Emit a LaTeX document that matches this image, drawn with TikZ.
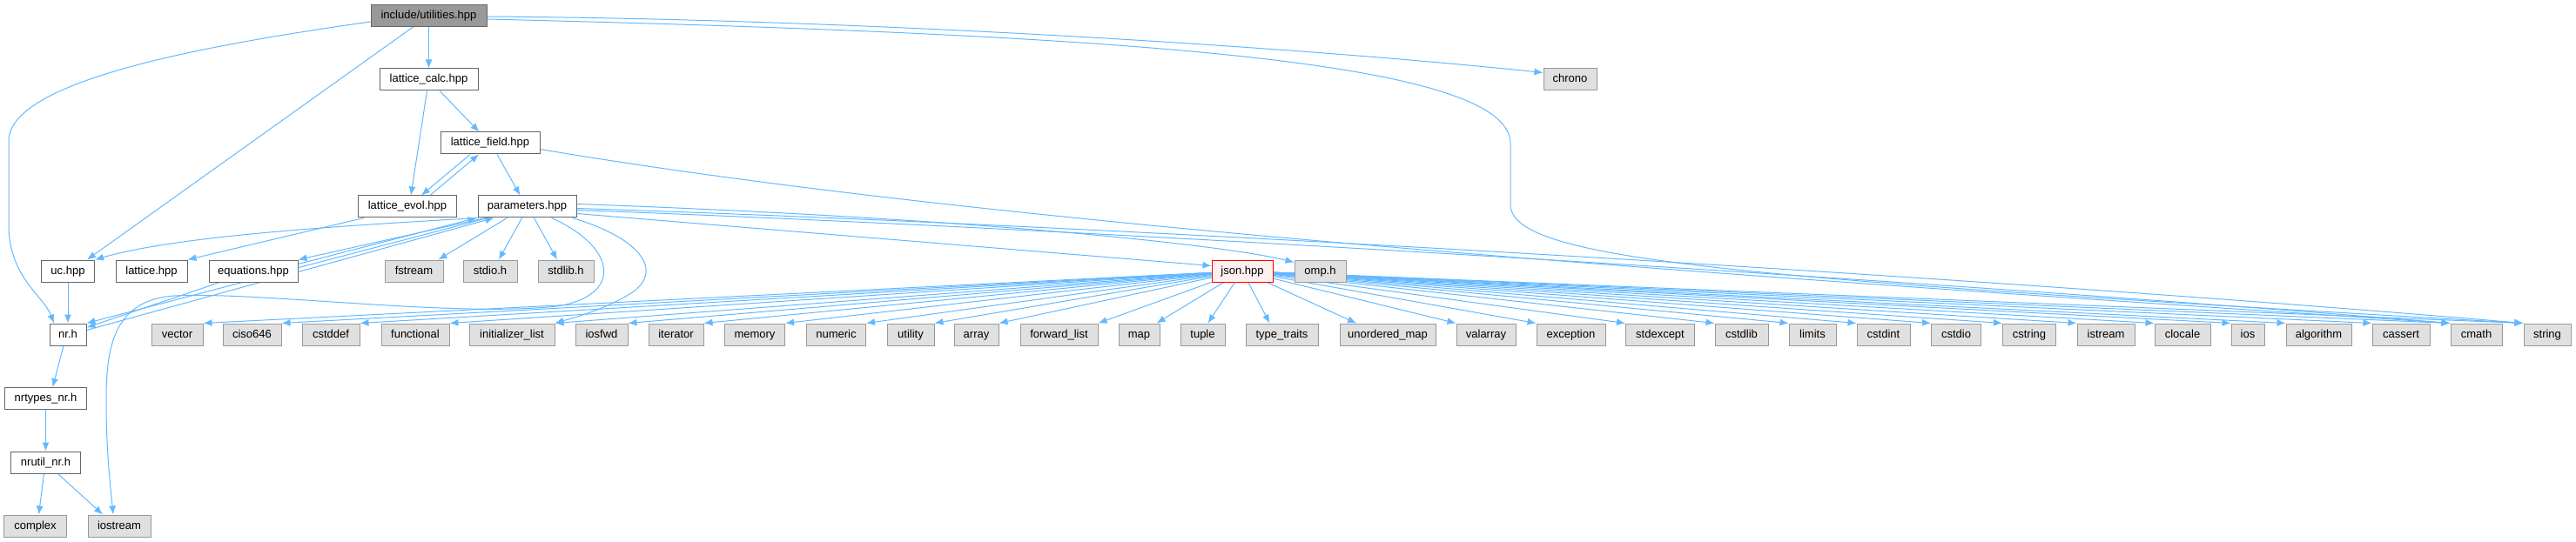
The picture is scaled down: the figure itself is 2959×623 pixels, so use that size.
\documentclass[tikz,border=0pt]{standalone}
\usepackage{fontspec}
\setmainfont{Liberation Sans}
\usetikzlibrary{arrows.meta,calc}
\definecolor{edgeblue}{HTML}{63B8FF}
\definecolor{extfill}{HTML}{E0E0E0}
\definecolor{extdraw}{HTML}{999999}
\definecolor{nodedraw}{HTML}{666666}
\definecolor{rootfill}{HTML}{999999}
\definecolor{jsonfill}{HTML}{FFF0F0}
\definecolor{jsondraw}{HTML}{FF0000}
\pgfdeclarelayer{bg}
\pgfsetlayers{bg,main}
\begin{document}
\begin{tikzpicture}[x=1bp,y=-1bp,
  box/.style={draw=nodedraw, fill=white, line width=1bp, minimum height=25bp, inner sep=0pt,
    font=\fontsize{13bp}{15bp}\selectfont, text=black, text height=9.6bp, text depth=2.6bp},
  extbox/.style={box, draw=extdraw, fill=extfill},
  rootbox/.style={box, fill=rootfill},
  redbox/.style={box, draw=jsondraw, fill=jsonfill},
  edge/.style={draw=edgeblue, line width=1bp, -{Latex[length=10bp,width=8bp]}},
]
\useasboundingbox (0,0) rectangle (2959,623);

% row 0
\node[rootbox, minimum width=133bp] (util) at (492.5,18) {include/utilities.hpp};
% row 1
\node[box, minimum width=113bp] (lcalc) at (492.5,91.5) {lattice\_calc.hpp};
\node[extbox, minimum width=61bp] (chrono) at (1803.5,91.5) {chrono};
% row 2
\node[box, minimum width=114bp] (lfield) at (563,164.5) {lattice\_field.hpp};
% row 3
\node[box, minimum width=113bp] (levol) at (468,237.5) {lattice\_evol.hpp};
\node[box, minimum width=113bp] (params) at (605.5,237.5) {parameters.hpp};
% row 4
\node[box, minimum width=61bp] (uc) at (78,311.5) {uc.hpp};
\node[box, minimum width=82bp] (lattice) at (174,311.5) {lattice.hpp};
\node[box, minimum width=102bp] (eq) at (291,311.5) {equations.hpp};
\node[extbox, minimum width=67bp] (fstream) at (475.5,311.5) {fstream};
\node[extbox, minimum width=62bp] (stdioh) at (563,311.5) {stdio.h};
\node[extbox, minimum width=64bp] (stdlibh) at (650,311.5) {stdlib.h};
\node[redbox, minimum width=70bp] (json) at (1427,311.5) {json.hpp};
\node[extbox, minimum width=59bp] (omp) at (1516.5,311.5) {omp.h};
% row 5
\node[box, minimum width=42bp] (nr) at (78,384.5) {nr.h};
\node[extbox, minimum width=59bp] (vector) at (203.5,384.5) {vector};
\node[extbox, minimum width=67bp] (ciso) at (289.5,384.5) {ciso646};
\node[extbox, minimum width=66bp] (cstddef) at (380,384.5) {cstddef};
\node[extbox, minimum width=78bp] (functional) at (477,384.5) {functional};
\node[extbox, minimum width=98bp] (initlist) at (588,384.5) {initializer\_list};
\node[extbox, minimum width=60bp] (iosfwd) at (691,384.5) {iosfwd};
\node[extbox, minimum width=63bp] (iterator) at (776.5,384.5) {iterator};
\node[extbox, minimum width=69bp] (memory) at (867,384.5) {memory};
\node[extbox, minimum width=68bp] (numeric) at (960.5,384.5) {numeric};
\node[extbox, minimum width=54bp] (utility) at (1046,384.5) {utility};
\node[extbox, minimum width=51bp] (array) at (1121.5,384.5) {array};
\node[extbox, minimum width=89bp] (fwdlist) at (1216.5,384.5) {forward\_list};
\node[extbox, minimum width=47bp] (map) at (1308.5,384.5) {map};
\node[extbox, minimum width=51bp] (tuple) at (1381.5,384.5) {tuple};
\node[extbox, minimum width=83bp] (typetraits) at (1472.5,384.5) {type\_traits};
\node[extbox, minimum width=110bp] (umap) at (1594,384.5) {unordered\_map};
\node[extbox, minimum width=68bp] (valarray) at (1707,384.5) {valarray};
\node[extbox, minimum width=79bp] (exception) at (1804.5,384.5) {exception};
\node[extbox, minimum width=79bp] (stdexcept) at (1907,384.5) {stdexcept};
\node[extbox, minimum width=61bp] (cstdlib) at (2000.5,384.5) {cstdlib};
\node[extbox, minimum width=54bp] (limits) at (2082,384.5) {limits};
\node[extbox, minimum width=61bp] (cstdint) at (2163.5,384.5) {cstdint};
\node[extbox, minimum width=57bp] (cstdio) at (2247,384.5) {cstdio};
\node[extbox, minimum width=61bp] (cstring) at (2331,384.5) {cstring};
\node[extbox, minimum width=66bp] (istream) at (2419,384.5) {istream};
\node[extbox, minimum width=64bp] (clocale) at (2507,384.5) {clocale};
\node[extbox, minimum width=38bp] (ios) at (2582,384.5) {ios};
\node[extbox, minimum width=75bp] (algorithm) at (2663.5,384.5) {algorithm};
\node[extbox, minimum width=66bp] (cassert) at (2758,384.5) {cassert};
\node[extbox, minimum width=59bp] (cmath) at (2844.5,384.5) {cmath};
\node[extbox, minimum width=54bp] (string) at (2926,384.5) {string};
% rows 6-8
\node[box, minimum width=93bp] (nrtypes) at (52.5,458) {nrtypes\_nr.h};
\node[box, minimum width=79bp] (nrutil) at (52.5,531.5) {nrutil\_nr.h};
\node[extbox, minimum width=71bp] (complex) at (40.5,604.5) {complex};
\node[extbox, minimum width=72bp] (iostream) at (137,604.5) {iostream};

\begin{pgfonlayer}{bg}
% utilities.hpp
\draw[edge] (util) -- (lcalc);
\draw[edge] ($(util.south)+(-18,0)$) -- ($(uc.north)+(22,0)$);
\draw[edge] ($(util.west)+(0,7)$) .. controls (250,50) and (15,90) .. (10,160) -- (10,262)
  .. controls (12,320) and (50,340) .. ($(nr.north)+(-16,0)$);
\draw[edge] ($(util.east)+(0,1)$) .. controls (1000,22) and (1500,55) .. ($(chrono.west)+(0,-8)$);
\draw[edge] ($(util.east)+(0,4)$) .. controls (1300,40) and (1735,70) .. (1735,165) -- (1735,235)
  .. controls (1735,300) and (2000,320) .. (string.north west);
% lattice_calc.hpp
\draw[edge] (lcalc) -- (lfield);
\draw[edge] ($(lcalc.south)+(-2,0)$) -- ($(levol.north)+(4,0)$);
% lattice_field.hpp / lattice_evol.hpp
\draw[edge] ($(lfield.south)+(-23,0)$) -- ($(levol.north)+(16,0)$);
\draw[edge] ($(levol.north)+(26,0)$) -- ($(lfield.south)+(-13,0)$);
\draw[edge] ($(lfield.south)+(8,0)$) -- ($(params.north)+(-8,0)$);
\draw[edge] ($(lfield.east)+(0,7)$) .. controls (1200,270) and (2200,330) .. (cmath.north west);
\draw[edge] ($(levol.south west)+(7,0)$) -- (lattice.north east);
% parameters.hpp
\draw[edge] ($(params.south west)+(1,0)$) .. controls (380,260) and (200,272) .. (uc.north east);
\draw[edge] ($(params.south west)+(9,0)$) -- (eq.north east);
\draw[edge] ($(eq.east)+(0,-8)$) -- ($(params.south west)+(-1,0)$);
\draw[edge] ($(params.south west)+(12,0)$) -- (nr.north east);
\draw[edge] ($(nr.east)+(0,-5)$) -- ($(params.south west)+(19,0)$);
\draw[edge] ($(params.south west)+(34,0)$) -- ($(fstream.north east)+(-6,0)$);
\draw[edge] ($(params.south)+(-6,0)$) -- ($(stdioh.north)+(10,0)$);
\draw[edge] ($(params.south)+(8,0)$) -- ($(stdlibh.north)+(-10,0)$);
\draw[edge] ($(params.south)+(28,0)$) .. controls (710,285) and (715,340) .. (640,352)
  .. controls (520,365) and (300,335) .. (200,340)
  .. controls (130,345) and (122,400) .. (122,460)
  .. controls (122,520) and (127,560) .. ($(iostream.north)+(-7,0)$);
\draw[edge] ($(params.south east)+(-5,0)$) .. controls (740,275) and (765,315) .. (720,340)
  .. controls (690,357) and (660,365) .. (initlist.north east);
\draw[edge] ($(params.east)+(0,8)$) -- ($(json.west)+(0,-6)$);
\draw[edge] ($(params.east)+(0,-3)$) .. controls (1100,250) and (1400,280) .. ($(omp.west)+(0,-10)$);
\draw[edge] ($(params.east)+(0,2)$) .. controls (1300,260) and (2300,320) .. (string.north west);
\draw[edge] ($(params.east)+(0,4)$) .. controls (1300,265) and (2250,325) .. (cmath.north west);
% equations.hpp, uc.hpp
\draw[edge] ($(eq.south west)+(13,0)$) -- ($(nr.east)+(0,-8)$);
\draw[edge] (uc) -- (nr);
% nr chain
\draw[edge] ($(nr.south)+(-5,0)$) -- ($(nrtypes.north)+(8,0)$);
\draw[edge] (nrtypes) -- (nrutil);
\draw[edge] ($(nrutil.south)+(-2,0)$) -- ($(complex.north)+(4,0)$);
\draw[edge] ($(nrutil.south)+(14,0)$) -- ($(iostream.north)+(-19,0)$);
% json.hpp
\foreach \t in {vector,ciso,cstddef,functional,initlist,iosfwd,iterator,memory,numeric,utility,array,fwdlist}
  \draw[edge] (json) -- (\t.north east);
\draw[edge] (json) -- ($(map.north east)+(-4,0)$);
\draw[edge] (json) -- ($(tuple.north)+(6,0)$);
\draw[edge] (json) -- ($(typetraits.north)+(-14,0)$);
\draw[edge] (json) -- ($(umap.north)+(-36,0)$);
\foreach \t in {valarray,exception,stdexcept,cstdlib,limits,cstdint,cstdio,cstring,istream,clocale,ios,algorithm,cassert,cmath,string}
  \draw[edge] (json) -- (\t.north west);
\end{pgfonlayer}
\end{tikzpicture}
\end{document}
